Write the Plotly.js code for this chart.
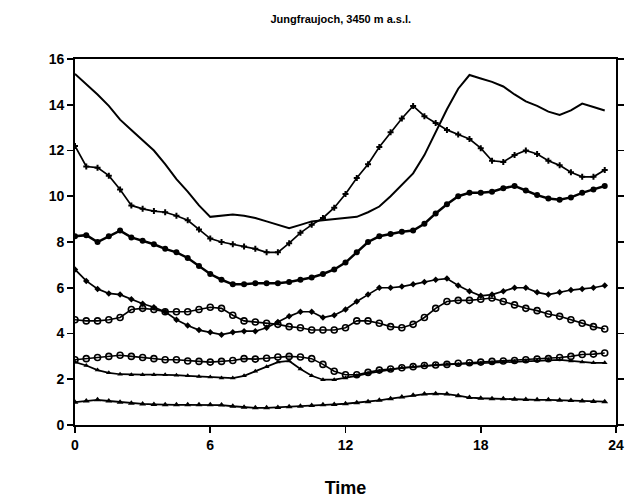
<!DOCTYPE html>
<html>
<head>
<meta charset="utf-8">
<script src="https://cdn.plot.ly/plotly-3.0.1.min.js"></script>
<style>html,body{margin:0;padding:0;background:#fff}#chart{width:637px;height:502px}</style>
</head>
<body>
<div id="chart"></div>
<script>
const hours = [0,0.5,1,1.5,2,2.5,3,3.5,4,4.5,5,5.5,6,6.5,7,7.5,8,8.5,9,9.5,10,10.5,11,11.5,12,12.5,13,13.5,14,14.5,15,15.5,16,16.5,17,17.5,18,18.5,19,19.5,20,20.5,21,21.5,22,22.5,23,23.5];

const seriesLine = [15.35,14.9,14.45,13.95,13.35,12.9,12.45,12.0,11.4,10.75,10.2,9.6,9.1,9.15,9.2,9.15,9.05,8.9,8.75,8.6,8.75,8.9,8.95,9.0,9.05,9.1,9.3,9.55,10.0,10.5,11.0,11.8,12.8,13.8,14.7,15.3,15.15,15.0,14.8,14.45,14.15,13.95,13.7,13.55,13.75,14.05,13.9,13.75];
const seriesCross = [12.2,11.3,11.25,10.9,10.3,9.6,9.45,9.35,9.3,9.15,8.95,8.55,8.15,8.0,7.9,7.8,7.7,7.55,7.55,7.95,8.4,8.75,9.05,9.5,10.1,10.8,11.4,12.15,12.8,13.4,13.95,13.5,13.2,12.9,12.7,12.5,12.1,11.55,11.5,11.8,12.0,11.85,11.55,11.35,11.05,10.85,10.85,11.15];
const seriesFilledCircle = [8.25,8.3,8.0,8.25,8.5,8.2,8.05,7.9,7.7,7.55,7.3,6.95,6.6,6.35,6.15,6.15,6.2,6.2,6.2,6.25,6.35,6.45,6.6,6.8,7.1,7.55,8.0,8.25,8.35,8.45,8.5,8.8,9.25,9.65,10.0,10.15,10.15,10.2,10.35,10.45,10.25,10.05,9.9,9.85,9.95,10.15,10.3,10.45];
const seriesSmallDot = [6.8,6.3,5.95,5.75,5.7,5.5,5.3,5.15,4.95,4.6,4.35,4.15,4.05,3.95,4.05,4.1,4.1,4.25,4.5,4.75,4.95,4.95,4.7,4.8,5.05,5.4,5.7,6.0,6.0,6.05,6.15,6.25,6.35,6.4,6.1,5.85,5.65,5.7,5.85,6.0,6.0,5.8,5.7,5.8,5.9,5.95,6.0,6.1];
const seriesOpenUpper = [4.6,4.55,4.55,4.6,4.7,5.05,5.1,5.05,4.95,4.95,4.95,5.05,5.15,5.1,4.8,4.55,4.5,4.45,4.4,4.3,4.25,4.15,4.15,4.15,4.25,4.55,4.55,4.45,4.3,4.25,4.4,4.7,5.1,5.4,5.45,5.45,5.5,5.55,5.4,5.25,5.1,5.0,4.85,4.75,4.6,4.45,4.3,4.2];
const seriesOpenLower = [2.85,2.9,2.95,3.0,3.05,3.0,2.95,2.9,2.85,2.85,2.8,2.78,2.75,2.78,2.82,2.9,2.88,2.92,2.97,3.0,2.97,2.9,2.65,2.35,2.2,2.2,2.3,2.4,2.45,2.5,2.55,2.6,2.62,2.65,2.7,2.72,2.75,2.78,2.8,2.82,2.85,2.88,2.9,2.95,3.0,3.08,3.1,3.15];
const seriesTriangle = [2.75,2.6,2.4,2.28,2.22,2.2,2.2,2.2,2.2,2.18,2.15,2.12,2.1,2.05,2.05,2.15,2.35,2.55,2.75,2.8,2.45,2.15,1.98,1.98,2.05,2.15,2.25,2.35,2.42,2.5,2.55,2.6,2.62,2.65,2.65,2.68,2.7,2.72,2.75,2.78,2.8,2.82,2.85,2.85,2.8,2.75,2.72,2.72];
const seriesFilledTriangle = [1.0,1.05,1.1,1.05,1.0,0.95,0.92,0.9,0.88,0.88,0.88,0.88,0.88,0.87,0.82,0.78,0.75,0.75,0.77,0.8,0.82,0.85,0.88,0.9,0.93,0.97,1.02,1.08,1.15,1.22,1.3,1.35,1.37,1.35,1.28,1.2,1.17,1.15,1.15,1.13,1.12,1.1,1.1,1.08,1.07,1.05,1.03,1.02];

const xTicks = [0,6,12,18,24];
const yTicks = [0,2,4,6,8,10,12,14,16];

const black = '#000';
function tr(y, mode, marker, width) {
  return {x: hours, y: y, type: 'scatter', mode: mode, line: {color: black, width: width}, marker: marker, hoverinfo: 'skip', showlegend: false};
}
const data = [
  tr(seriesLine, 'lines', {}, 2),
  tr(seriesCross, 'lines+markers', {symbol: 'cross', size: 5, color: black}, 1.7),
  tr(seriesFilledCircle, 'lines+markers', {symbol: 'circle', size: 6, color: black}, 2.5),
  tr(seriesSmallDot, 'lines+markers', {symbol: 'diamond', size: 5, color: black}, 1.7),
  tr(seriesOpenUpper, 'lines+markers', {symbol: 'circle-open', size: 6, color: black, line: {width: 1.6}}, 1.6),
  tr(seriesOpenLower, 'lines+markers', {symbol: 'circle-open', size: 6, color: black, line: {width: 1.6}}, 1.6),
  tr(seriesTriangle, 'lines+markers', {symbol: 'triangle-up', size: 5, color: black}, 1.7),
  tr(seriesFilledTriangle, 'lines+markers', {symbol: 'triangle-up', size: 6, color: black}, 1.8)
];

const tickFont = {family: 'Liberation Sans, Arial, sans-serif', size: 14, color: black, weight: 'bold'};
const layout = {
  width: 637, height: 502,
  margin: {l: 75, r: 21, t: 59, b: 77},
  paper_bgcolor: '#fff', plot_bgcolor: '#fff',
  title: {text: 'Jungfraujoch, 3450 m a.s.l.', x: 0.535, xanchor: 'center', y: 0.962, yanchor: 'middle',
          font: {family: 'Liberation Sans, Arial, sans-serif', size: 11, color: black, weight: 'bold'}},
  xaxis: {range: [0, 24], tickvals: xTicks, ticktext: xTicks.map(String), ticks: 'outside', ticklen: 6, tickwidth: 1.8,
          tickcolor: black, showline: true, linecolor: black, linewidth: 1.8, mirror: true, showgrid: false, zeroline: false,
          tickfont: tickFont, fixedrange: true,
          title: {text: 'Time', standoff: 30, font: {family: 'Liberation Sans, Arial, sans-serif', size: 18, color: black, weight: 'bold'}}},
  yaxis: {range: [0, 16], tickvals: yTicks, ticktext: yTicks.map(String), ticks: 'outside', ticklen: 6, tickwidth: 1.8,
          tickcolor: black, showline: true, linecolor: black, linewidth: 1.8, mirror: 'ticks', showgrid: false, zeroline: false,
          tickfont: tickFont, fixedrange: true}
};
Plotly.newPlot('chart', data, layout, {displayModeBar: false, staticPlot: true});
</script>
</body>
</html>
